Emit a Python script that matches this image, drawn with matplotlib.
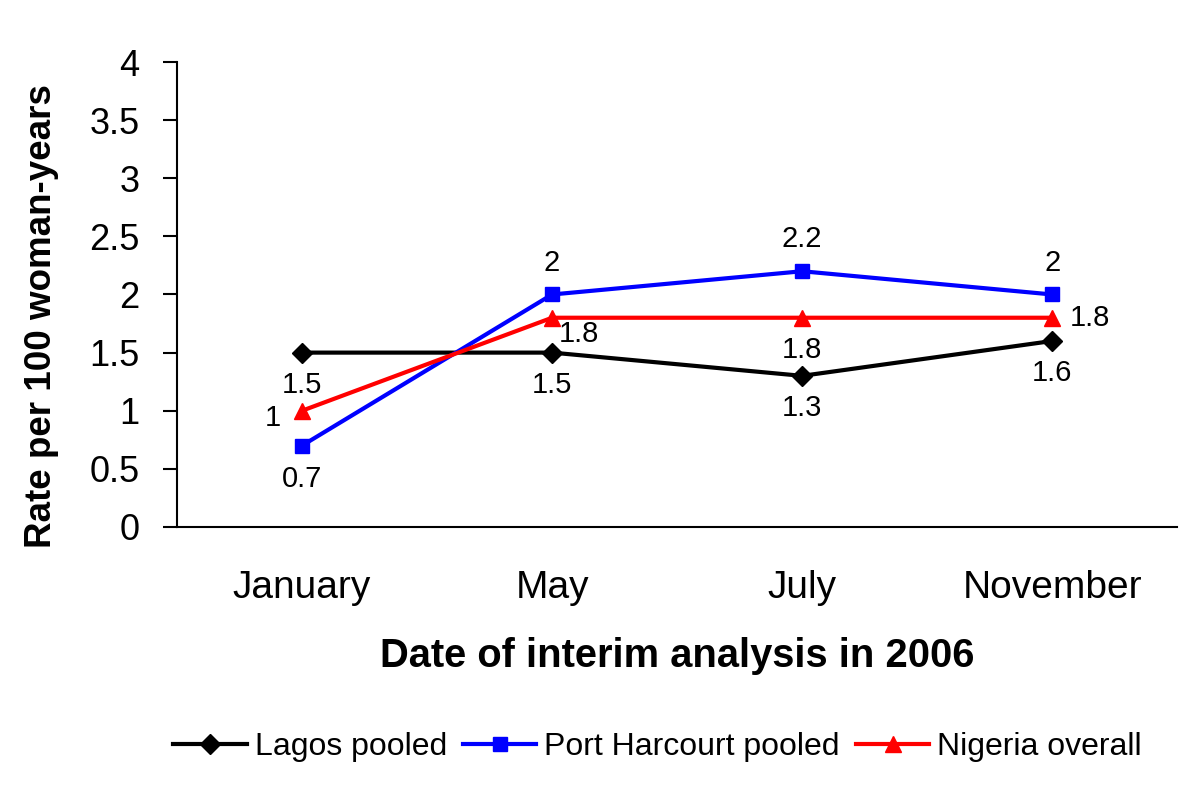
import matplotlib
matplotlib.use("Agg")
import matplotlib.pyplot as plt

plt.rcParams['font.family'] = ['Liberation Sans', 'DejaVu Sans']

categories = ["January", "May", "July", "November"]
lagos = [1.5, 1.5, 1.3, 1.6]
port = [0.7, 2.0, 2.2, 2.0]
nigeria = [1.0, 1.8, 1.8, 1.8]
yticks = [0, 0.5, 1, 1.5, 2, 2.5, 3, 3.5, 4]
ytick_labels = ["0", "0.5", "1", "1.5", "2", "2.5", "3", "3.5", "4"]

fig = plt.figure(figsize=(12, 7.91), dpi=100)
ax = fig.add_axes([0.1475, 0.3338, 0.8335, 0.5878])

x = list(range(len(categories)))
ax.plot(x, lagos, color='black', lw=3, marker='D', ms=10, label='Lagos pooled', zorder=3)
ax.plot(x, port, color='#0000ff', lw=3, marker='s', ms=10, label='Port Harcourt pooled', zorder=3)
ax.plot(x, nigeria, color='#ff0000', lw=3, marker='^', ms=12, label='Nigeria overall', zorder=3)

lab_fs = 21
def fmt(v):
    return ('%g' % v)

# Lagos: all below
for i, v in enumerate(lagos):
    ax.annotate(fmt(v), (i, v), xytext=(0, -23), textcoords='offset points',
                ha='center', va='center', fontsize=lab_fs)
# Port Harcourt: Jan below, others above
for i, v in enumerate(port):
    off = -24 if i == 0 else 23
    ax.annotate(fmt(v), (i, v), xytext=(0, off), textcoords='offset points',
                ha='center', va='center', fontsize=lab_fs)
# Nigeria: left, right, below, right
nig_offsets = [(-21, -5), (19, -12), (0, -23), (27, 0)]
for i, v in enumerate(nigeria):
    dx, dy = nig_offsets[i]
    ax.annotate(fmt(v), (i, v), xytext=(dx, dy), textcoords='offset points',
                ha='center', va='center', fontsize=lab_fs)

ax.set_xlim(-0.5, 3.5)
ax.set_ylim(0, 4)
ax.set_yticks(yticks)
ax.set_yticklabels(ytick_labels)
ax.set_xticks(x)
ax.set_xticklabels(categories)
ax.tick_params(axis='y', direction='out', length=10, width=1.5, labelsize=26, pad=17)
ax.tick_params(axis='x', length=0, labelsize=28, pad=31)
for s in ['top', 'right']:
    ax.spines[s].set_visible(False)
for s in ['left', 'bottom']:
    ax.spines[s].set_linewidth(1.5)

ax.set_ylabel('Rate per 100 woman-years', fontsize=26.5, fontweight='bold')
ax.yaxis.set_label_coords(-0.118, 0.454)
ax.set_xlabel('Date of interim analysis in 2006', fontsize=28.7, fontweight='bold', labelpad=22)

fig.legend(loc='center', bbox_to_anchor=(0.548, 0.055), ncol=3, frameon=False,
           fontsize=23, handlelength=2.3, handletextpad=0.25, columnspacing=0.5)

fig.savefig('out.png', dpi=100)
